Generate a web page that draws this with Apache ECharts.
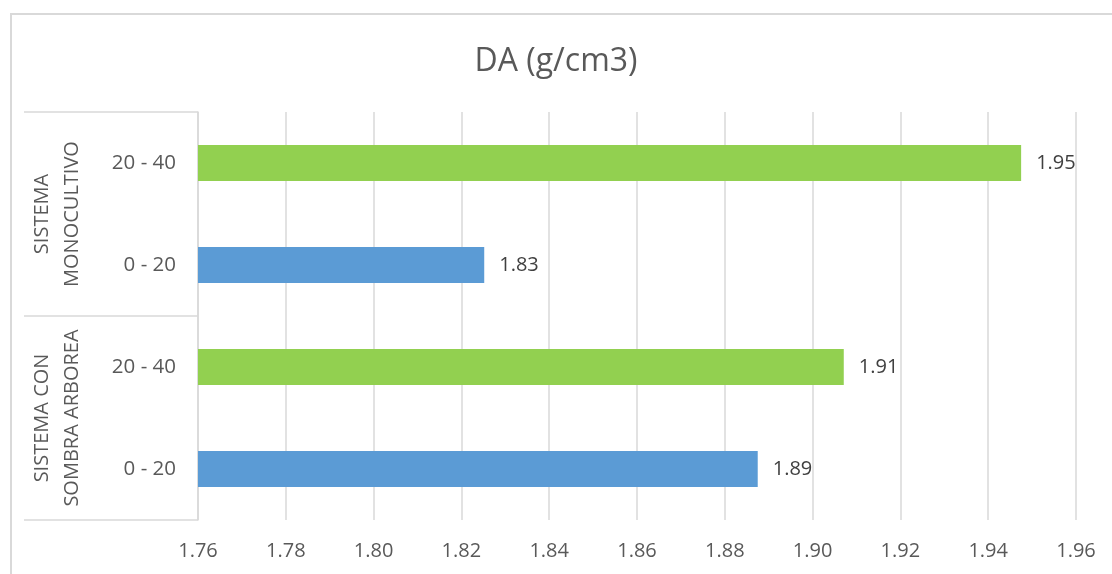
<!DOCTYPE html>
<html>
<head>
<meta charset="utf-8">
<script src="https://cdn.jsdelivr.net/npm/echarts@6/dist/echarts.min.js"></script>
<style>
html,body{margin:0;padding:0;background:#fff;overflow:hidden;}
#chart{width:1112px;height:574px;}
#frame{position:absolute;left:10px;top:13px;width:1300px;height:800px;border-left:2px solid #d9d9d9;border-top:2px solid #d9d9d9;pointer-events:none;}
</style>
</head>
<body>
<div id="chart"></div>
<div id="frame"></div>
<script>
const title = 'DA (g/cm3)';
const depthLabels = ['0 - 20', '20 - 40', '0 - 20', '20 - 40'];
const groupLabels = ['SISTEMA CON\nSOMBRA ARBOREA', 'SISTEMA\nMONOCULTIVO'];
const values = [1.8875, 1.9071, 1.8252, 1.9475];
const barColors = ['#5B9BD5', '#92D050', '#5B9BD5', '#92D050'];
const xTicks = { min: 1.76, max: 1.96, step: 0.02 };

const font = 'Open Sans';
const chart = echarts.init(document.getElementById('chart'));
chart.setOption({
  backgroundColor: '#fff',
  animation: false,
  title: {
    text: title, left: 'center', top: 41,
    textStyle: { fontFamily: font, fontSize: 32, fontWeight: 'normal', color: '#595959' }
  },
  grid: { left: 198, right: 36, top: 112, bottom: 54, containLabel: false },
  xAxis: {
    type: 'value', min: xTicks.min, max: xTicks.max, interval: xTicks.step,
    axisLine: { show: false }, axisTick: { show: false },
    splitLine: { show: true, lineStyle: { color: '#d9d9d9', width: 1.5 } },
    axisLabel: { fontFamily: font, fontSize: 20, color: '#595959', margin: 21,
      formatter: v => v.toFixed(2) }
  },
  yAxis: [
    {
      type: 'category', data: depthLabels, position: 'left',
      axisLine: { show: true, lineStyle: { color: '#d9d9d9', width: 1.5 } },
      axisTick: { show: false },
      axisLabel: { fontFamily: font, fontSize: 20.5, color: '#595959', margin: 22 }
    },
    {
      type: 'category', data: groupLabels, position: 'left',
      axisLine: { show: false },
      axisTick: { show: true, length: 174, interval: 0, lineStyle: { color: '#d9d9d9', width: 1.5 } },
      axisLabel: { fontFamily: font, fontSize: 20, color: '#595959', rotate: 90, margin: 111,
        lineHeight: 30, interval: 0 }
    }
  ],
  series: [{
    type: 'bar', yAxisIndex: 0, barWidth: 36,
    data: values.map((v, i) => ({ value: v, itemStyle: { color: barColors[i] } })),
    label: { show: true, position: 'right', distance: 15, fontFamily: font, fontSize: 20,
      color: '#404040', formatter: p => p.value.toFixed(2) }
  }]
});
</script>
</body>
</html>
